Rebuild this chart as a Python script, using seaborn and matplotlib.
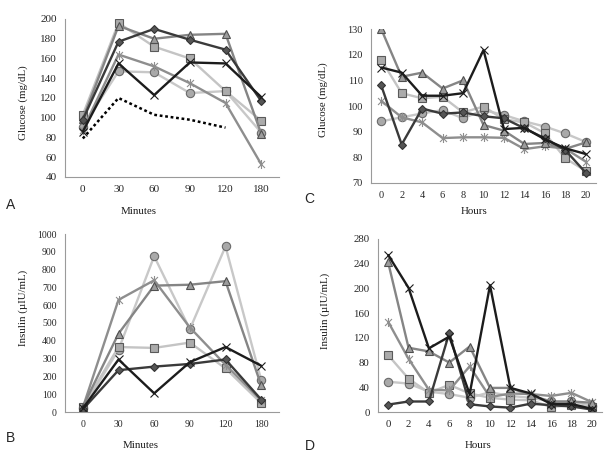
import numpy as np
import matplotlib
matplotlib.use("Agg")
import matplotlib.pyplot as plt
from matplotlib.path import Path
import seaborn as sns

sns.set_style("white")
plt.rcParams["font.family"] = ["Liberation Serif", "DejaVu Serif"]


# --------------------------------------------------
# Data
# --------------------------------------------------

minutes = ["0", "30", "60", "90", "120", "180"]
hours = ["0", "2", "4", "6", "8", "10", "12", "14", "16", "18", "20"]

# Panel A - glucose (mg/dL) during the test, minutes
a_diamond = [98, 177, 190, 179, 169, 117]
a_square = [103, 196, 172, 160, 127, 97]
a_triangle = [99, 193, 180, 184, 185, 84]
a_cross = [86, 155, 123, 156, 155, 121]
a_star = [88, 164, 152, 135, 115, 53]
a_circle = [91, 147, 146, 125, 127, 85]
a_dotted = [79, 120, 103, 98, 90]

# Panel B - insulin (uIU/mL), minutes
b_diamond = [15, 235, 255, 270, 295, 70]
b_square = [30, 365, 360, 390, 245, 50]
b_triangle = [30, 440, 710, 715, 735, 150]
b_cross = [20, 295, 105, 280, 365, 260]
b_star = [25, 630, 740, 475, 265, 65]
b_circle = [20, 350, 875, 465, 930, 180]

# Panel C - glucose (mg/dL), hours
c_diamond = [108, 85, 99, 97, 97.5, 96, 95.2, 91.3, 87.4, 82.8, 74]
c_square = [118, 105, 103, 103.6, 97.5, 99.8, 94.8, 93.6, 89.4, 79.6, 74.7]
c_triangle = [130, 111.4, 113, 106.8, 110, 92.6, 90.4, 85.2, 85.6, 83.3, 85.8]
c_cross = [115, 113, 104, 104, 105, 121.8, 91, 91.5, 87, 83.5, 81.3]
c_star = [102, 95.6, 93.6, 87.5, 87.8, 87.8, 87.6, 83.2, 84.3, 83.4, 78.3]
c_circle = [94, 95.6, 97.1, 98.4, 95.2, 98.4, 96.5, 94, 92, 89.3, 86]

# Panel D - insulin (uIU/mL), hours
d_diamond = [12, 17, 17, 128, 12.5, 9, 7, 13.5, 11, 9, 4]
d_square = [92, 54, 31, 44, 30, 23, 20, 19, 8, 11, 8]
d_triangle = [242, 104, 98, 80, 106, 39, 39, 27, 17, 17, 15]
d_cross = [254, 201, 103, 122, 29, 205, 39, 30, 13, 13, 5]
d_star = [146, 86, 36, 35, 74, 24, 30, 29, 26, 31, 16]
d_circle = [49, 46, 33, 29, 23, 32, 26, 23, 17, 17, 10]


# --------------------------------------------------
# Styles
# --------------------------------------------------

# Excel-like star: an x with a vertical bar through it
star_path = Path(
    [(-1, -1), (1, 1), (-1, 1), (1, -1), (0, -1.3), (0, 1.3)],
    [Path.MOVETO, Path.LINETO, Path.MOVETO, Path.LINETO,
     Path.MOVETO, Path.LINETO],
)

STYLES = {
    "diamond": dict(color="#3a3a3a", marker="D", markersize=4.2,
                    markerfacecolor="#555555", markeredgecolor="#333333"),
    "square": dict(color="#c4c4c4", marker="s", markersize=5.6,
                   markerfacecolor="#ababab", markeredgecolor="#5a5a5a"),
    "triangle": dict(color="#858585", marker="^", markersize=5.6,
                     markerfacecolor="#9c9c9c", markeredgecolor="#505050"),
    "cross": dict(color="#1c1c1c", marker="x", markersize=5.5,
                  markeredgecolor="#1c1c1c"),
    "star": dict(color="#8e8e8e", marker=star_path, markersize=6.5,
                 markeredgecolor="#8e8e8e"),
    "circle": dict(color="#c8c8c8", marker="o", markersize=6,
                   markerfacecolor="#a9a9a9", markeredgecolor="#6a6a6a"),
}


def draw_series(ax, values, key):
    st = STYLES[key]
    x = np.arange(len(values))
    sns.lineplot(x=x, y=values, ax=ax, linewidth=1.7, sort=False,
                 markeredgewidth=0.8, legend=False, **st)


def style_axes(ax, labels, ylim, step, fs):
    n = len(labels)
    ax.set_xlim(-0.5, n - 0.5)
    ax.set_ylim(*ylim)
    ax.set_yticks(np.arange(ylim[0], ylim[1] + step / 2, step))
    ax.set_xticks(np.arange(n))
    ax.set_xticklabels(labels)
    ax.set_xticks(np.arange(n + 1) - 0.5, minor=True)
    ax.tick_params(axis="x", which="major", length=0, pad=6, labelsize=fs)
    ax.tick_params(axis="x", which="minor", length=4, color="#9a9a9a", width=0.8)
    ax.tick_params(axis="y", length=3, color="#9a9a9a", width=0.8,
                   labelsize=fs, pad=3)
    for side in ["top", "right"]:
        ax.spines[side].set_visible(False)
    for side in ["left", "bottom"]:
        ax.spines[side].set_color("#9a9a9a")
        ax.spines[side].set_linewidth(0.8)
    ax.set_xlabel("")
    ax.set_ylabel("")
    ax.grid(False)


# --------------------------------------------------
# Figure
# --------------------------------------------------

W, H = 613, 458
fig = plt.figure(figsize=(W / 100, H / 100), dpi=100)


def px_axes(left, top, right, bottom):
    return fig.add_axes([left / W, 1 - bottom / H, (right - left) / W,
                         (bottom - top) / H])


ax_a = px_axes(65, 19, 279, 177)
ax_b = px_axes(65, 234, 279, 412)
ax_c = px_axes(371, 29, 596, 183)
ax_d = px_axes(378, 239, 602, 412)

panels = [
    (ax_a, [a_diamond, a_square, a_triangle, a_cross, a_star, a_circle]),
    (ax_b, [b_diamond, b_square, b_triangle, b_cross, b_star, b_circle]),
    (ax_c, [c_diamond, c_square, c_triangle, c_cross, c_star, c_circle]),
    (ax_d, [d_diamond, d_square, d_triangle, d_cross, d_star, d_circle]),
]
order = ["circle", "square", "star", "triangle", "diamond", "cross"]
keys = ["diamond", "square", "triangle", "cross", "star", "circle"]

for ax, series in panels:
    lookup = dict(zip(keys, series))
    for key in order:
        draw_series(ax, lookup[key], key)

# fasting reference (dotted) in panel A
sns.lineplot(x=np.arange(len(a_dotted)), y=a_dotted, ax=ax_a, color="black",
             linestyle=(0, (1.1, 1.1)), linewidth=1.8, sort=False, legend=False)

style_axes(ax_a, minutes, (40, 200), 20, 8)
style_axes(ax_b, minutes, (0, 1000), 100, 7)
style_axes(ax_c, hours, (70, 130), 10, 7.5)
style_axes(ax_d, hours, (0, 280), 40, 7.8)

# axis titles
lab = dict(fontsize=7.8, color="#1a1a1a", ha="center", va="center")
fig.text(23 / W, 1 - 103 / H, "Glucose (mg/dL)", rotation=90, **lab)
fig.text(23 / W, 1 - 308 / H, "Insulin (µIU/mL)", rotation=90, **lab)
fig.text(323 / W, 1 - 100 / H, "Glucose (mg/dL)", rotation=90, **lab)
fig.text(325 / W, 1 - 311 / H, "Insulin (µIU/mL)", rotation=90, **lab)
fig.text(139 / W, 1 - 212 / H, "Minutes", **lab)
fig.text(141 / W, 1 - 445 / H, "Minutes", **lab)
fig.text(474 / W, 1 - 212 / H, "Hours", **lab)
fig.text(478 / W, 1 - 446 / H, "Hours", **lab)

# panel letters
let = dict(fontsize=10, family="Liberation Sans", ha="center", va="center")
fig.text(11 / W, 1 - 205 / H, "A", **let)
fig.text(11 / W, 1 - 438 / H, "B", **let)
fig.text(309 / W, 1 - 199 / H, "C", **let)
fig.text(310 / W, 1 - 446 / H, "D", **let)

fig.savefig("out.png", dpi=100, facecolor="white")
